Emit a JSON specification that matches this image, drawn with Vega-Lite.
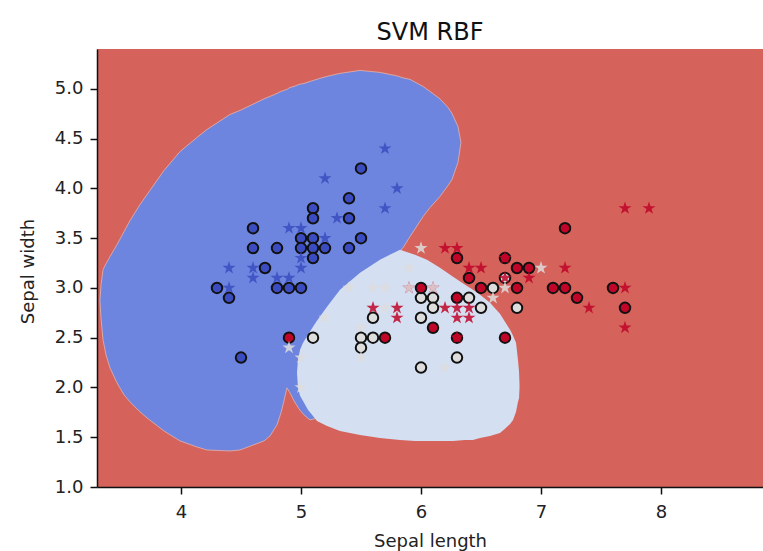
{
  "$schema": "https://vega.github.io/schema/vega-lite/v6.json",
  "autosize": {"type": "none"},
  "width": 666,
  "height": 438,
  "padding": {"left": 97, "top": 49, "right": 0, "bottom": 64},
  "background": "white",
  "title": {"text": "SVM RBF", "font": "DejaVu Sans", "fontSize": 24, "fontWeight": "normal", "color": "#111", "anchor": "middle", "baseline": "alphabetic", "offset": -15},
  "config": {
    "view": {"fill": "#d5625b", "stroke": null},
    "axis": {"domainColor": "#111", "domainWidth": 1.5, "tickColor": "#111", "tickWidth": 1.5, "tickSize": 7, "labelFont": "DejaVu Sans", "labelFontSize": 18, "labelColor": "#222", "titleFont": "DejaVu Sans", "titleFontSize": 18, "titleFontWeight": "normal", "titleColor": "#222", "grid": false}
  },
  "datasets": {
    "blueRegion": [
      {"x": 3.325, "lo": 2.861, "hi": 2.881}, {"x": 3.333, "lo": 2.7, "hi": 3.022}, {"x": 3.35, "lo": 2.479, "hi": 3.183}, {"x": 3.375, "lo": 2.328, "hi": 3.243}, {"x": 3.408, "lo": 2.197, "hi": 3.314}, {"x": 3.467, "lo": 2.046, "hi": 3.435}, {"x": 3.525, "lo": 1.926, "hi": 3.565}, {"x": 3.575, "lo": 1.855, "hi": 3.676}, {"x": 3.658, "lo": 1.755, "hi": 3.837}, {"x": 3.717, "lo": 1.694, "hi": 3.938}, {"x": 3.858, "lo": 1.563, "hi": 4.179}, {"x": 3.992, "lo": 1.463, "hi": 4.37}, {"x": 4.133, "lo": 1.402, "hi": 4.511}, {"x": 4.217, "lo": 1.372, "hi": 4.592}, {"x": 4.408, "lo": 1.362, "hi": 4.742}, {"x": 4.492, "lo": 1.372, "hi": 4.783}, {"x": 4.692, "lo": 1.463, "hi": 4.899}, {"x": 4.742, "lo": 1.513, "hi": 4.924}, {"x": 4.8, "lo": 1.624, "hi": 4.954}, {"x": 4.833, "lo": 1.744, "hi": 4.974}, {"x": 4.858, "lo": 1.865, "hi": 4.984}, {"x": 4.883, "lo": 1.996, "hi": 4.994}, {"x": 4.908, "lo": 1.946, "hi": 5.014}, {"x": 4.942, "lo": 1.865, "hi": 5.024}, {"x": 4.983, "lo": 1.785, "hi": 5.044}, {"x": 5.025, "lo": 1.724, "hi": 5.054}, {"x": 5.075, "lo": 1.674, "hi": 5.074}, {"x": 5.158, "lo": 1.7, "hi": 5.105}, {"x": 5.217, "lo": 2.73, "hi": 5.125}, {"x": 5.325, "lo": 2.901, "hi": 5.155}, {"x": 5.492, "lo": 3.082, "hi": 5.185}, {"x": 5.658, "lo": 3.223, "hi": 5.165}, {"x": 5.8, "lo": 3.334, "hi": 5.13}, {"x": 5.85, "lo": 3.404, "hi": 5.11}, {"x": 5.908, "lo": 3.515, "hi": 5.095}, {"x": 6.017, "lo": 3.716, "hi": 5.024}, {"x": 6.075, "lo": 3.807, "hi": 4.974}, {"x": 6.158, "lo": 3.918, "hi": 4.899}, {"x": 6.225, "lo": 4.028, "hi": 4.813}, {"x": 6.258, "lo": 4.089, "hi": 4.753}, {"x": 6.308, "lo": 4.26, "hi": 4.622}, {"x": 6.333, "lo": 4.461, "hi": 4.461}
    ],
    "lightRegion": [
      {"x": 4.967, "lo": 2.137, "hi": 2.157}, {"x": 4.975, "lo": 1.996, "hi": 2.278}, {"x": 4.992, "lo": 1.916, "hi": 2.378}, {"x": 5.017, "lo": 1.865, "hi": 2.449}, {"x": 5.058, "lo": 1.775, "hi": 2.529}, {"x": 5.1, "lo": 1.714, "hi": 2.61}, {"x": 5.133, "lo": 1.664, "hi": 2.67}, {"x": 5.217, "lo": 1.614, "hi": 2.811}, {"x": 5.325, "lo": 1.563, "hi": 2.982}, {"x": 5.492, "lo": 1.523, "hi": 3.153}, {"x": 5.658, "lo": 1.493, "hi": 3.284}, {"x": 5.825, "lo": 1.473, "hi": 3.384}, {"x": 5.95, "lo": 1.463, "hi": 3.334}, {"x": 6.05, "lo": 1.463, "hi": 3.284}, {"x": 6.158, "lo": 1.463, "hi": 3.203}, {"x": 6.267, "lo": 1.463, "hi": 3.113}, {"x": 6.367, "lo": 1.473, "hi": 3.032}, {"x": 6.433, "lo": 1.473, "hi": 2.982}, {"x": 6.492, "lo": 1.493, "hi": 2.932}, {"x": 6.575, "lo": 1.513, "hi": 2.851}, {"x": 6.658, "lo": 1.543, "hi": 2.74}, {"x": 6.7, "lo": 1.584, "hi": 2.66}, {"x": 6.742, "lo": 1.634, "hi": 2.579}, {"x": 6.767, "lo": 1.674, "hi": 2.519}, {"x": 6.792, "lo": 1.755, "hi": 2.449}, {"x": 6.808, "lo": 1.855, "hi": 2.278}, {"x": 6.817, "lo": 1.895, "hi": 2.157}, {"x": 6.821, "lo": 1.996, "hi": 2.026}
    ],
    "trainPoints": [
      {"x": 4.3, "y": 3.0, "c": "setosa"}, {"x": 4.4, "y": 2.9, "c": "setosa"}, {"x": 4.5, "y": 2.3, "c": "setosa"}, {"x": 4.6, "y": 3.6, "c": "setosa"}, {"x": 4.6, "y": 3.4, "c": "setosa"}, {"x": 4.7, "y": 3.2, "c": "setosa"}, {"x": 4.8, "y": 3.4, "c": "setosa"}, {"x": 4.8, "y": 3.0, "c": "setosa"}, {"x": 4.9, "y": 3.0, "c": "setosa"}, {"x": 5.0, "y": 3.0, "c": "setosa"}, {"x": 5.0, "y": 3.5, "c": "setosa"}, {"x": 5.1, "y": 3.5, "c": "setosa"}, {"x": 5.0, "y": 3.4, "c": "setosa"}, {"x": 5.1, "y": 3.4, "c": "setosa"}, {"x": 5.2, "y": 3.4, "c": "setosa"}, {"x": 5.4, "y": 3.4, "c": "setosa"}, {"x": 5.1, "y": 3.3, "c": "setosa"}, {"x": 5.1, "y": 3.8, "c": "setosa"}, {"x": 5.1, "y": 3.7, "c": "setosa"}, {"x": 5.4, "y": 3.7, "c": "setosa"}, {"x": 5.4, "y": 3.9, "c": "setosa"}, {"x": 5.5, "y": 4.2, "c": "setosa"}, {"x": 5.5, "y": 3.5, "c": "setosa"},
      {"x": 5.1, "y": 2.5, "c": "versicolor"}, {"x": 5.5, "y": 2.5, "c": "versicolor"}, {"x": 5.6, "y": 2.5, "c": "versicolor"}, {"x": 5.5, "y": 2.4, "c": "versicolor"}, {"x": 5.6, "y": 2.7, "c": "versicolor"}, {"x": 6.0, "y": 2.9, "c": "versicolor"}, {"x": 6.1, "y": 2.9, "c": "versicolor"}, {"x": 6.1, "y": 2.8, "c": "versicolor"}, {"x": 6.0, "y": 2.7, "c": "versicolor"}, {"x": 6.0, "y": 2.2, "c": "versicolor"}, {"x": 6.4, "y": 2.9, "c": "versicolor"}, {"x": 6.5, "y": 2.8, "c": "versicolor"}, {"x": 6.6, "y": 3.0, "c": "versicolor"}, {"x": 6.3, "y": 2.3, "c": "versicolor"}, {"x": 6.8, "y": 2.8, "c": "versicolor"}, {"x": 6.7, "y": 3.1, "c": "versicolor"},
      {"x": 4.9, "y": 2.5, "c": "virginica"}, {"x": 5.7, "y": 2.5, "c": "virginica"}, {"x": 6.0, "y": 3.0, "c": "virginica"}, {"x": 6.1, "y": 2.6, "c": "virginica"}, {"x": 6.3, "y": 2.9, "c": "virginica"}, {"x": 6.3, "y": 2.5, "c": "virginica"}, {"x": 6.7, "y": 2.5, "c": "virginica"}, {"x": 6.3, "y": 3.3, "c": "virginica"}, {"x": 6.7, "y": 3.3, "c": "virginica"}, {"x": 6.8, "y": 3.2, "c": "virginica"}, {"x": 6.9, "y": 3.2, "c": "virginica"}, {"x": 6.4, "y": 3.1, "c": "virginica"}, {"x": 6.5, "y": 3.0, "c": "virginica"}, {"x": 6.8, "y": 3.0, "c": "virginica"}, {"x": 7.2, "y": 3.6, "c": "virginica"}, {"x": 7.1, "y": 3.0, "c": "virginica"}, {"x": 7.2, "y": 3.0, "c": "virginica"}, {"x": 7.3, "y": 2.9, "c": "virginica"}, {"x": 7.6, "y": 3.0, "c": "virginica"}, {"x": 7.7, "y": 2.8, "c": "virginica"}
    ],
    "testPoints": [
      {"x": 5.7, "y": 4.4, "c": "setosa"}, {"x": 5.2, "y": 4.1, "c": "setosa"}, {"x": 5.8, "y": 4.0, "c": "setosa"}, {"x": 5.7, "y": 3.8, "c": "setosa"}, {"x": 5.3, "y": 3.7, "c": "setosa"}, {"x": 4.9, "y": 3.6, "c": "setosa"}, {"x": 5.0, "y": 3.6, "c": "setosa"}, {"x": 5.2, "y": 3.5, "c": "setosa"}, {"x": 4.4, "y": 3.2, "c": "setosa"}, {"x": 4.6, "y": 3.2, "c": "setosa"}, {"x": 4.6, "y": 3.1, "c": "setosa"}, {"x": 4.4, "y": 3.0, "c": "setosa"}, {"x": 4.8, "y": 3.1, "c": "setosa"}, {"x": 4.9, "y": 3.1, "c": "setosa"}, {"x": 5.0, "y": 3.3, "c": "setosa"}, {"x": 5.0, "y": 3.2, "c": "setosa"},
      {"x": 6.2, "y": 3.4, "c": "virginica"}, {"x": 6.3, "y": 3.4, "c": "virginica"}, {"x": 6.4, "y": 3.2, "c": "virginica"}, {"x": 6.5, "y": 3.2, "c": "virginica"}, {"x": 6.7, "y": 3.1, "c": "virginica"}, {"x": 6.9, "y": 3.1, "c": "virginica"}, {"x": 6.2, "y": 2.8, "c": "virginica"}, {"x": 6.3, "y": 2.8, "c": "virginica"}, {"x": 6.4, "y": 2.8, "c": "virginica"}, {"x": 6.3, "y": 2.7, "c": "virginica"}, {"x": 6.4, "y": 2.7, "c": "virginica"}, {"x": 5.8, "y": 2.8, "c": "virginica"}, {"x": 5.8, "y": 2.7, "c": "virginica"}, {"x": 5.6, "y": 2.8, "c": "virginica"}, {"x": 6.3, "y": 2.5, "c": "virginica"}, {"x": 7.2, "y": 3.2, "c": "virginica"}, {"x": 7.7, "y": 3.8, "c": "virginica"}, {"x": 7.9, "y": 3.8, "c": "virginica"}, {"x": 7.4, "y": 2.8, "c": "virginica"}, {"x": 7.7, "y": 3.0, "c": "virginica"}, {"x": 7.7, "y": 2.6, "c": "virginica"}, {"x": 6.7, "y": 3.3, "c": "virginica"}, {"x": 5.9, "y": 3.0, "c": "virginica"}, {"x": 6.1, "y": 3.0, "c": "virginica"},
      {"x": 4.9, "y": 2.4, "c": "versicolor"}, {"x": 5.0, "y": 2.3, "c": "versicolor"}, {"x": 5.0, "y": 2.0, "c": "versicolor"}, {"x": 5.2, "y": 2.7, "c": "versicolor"}, {"x": 5.4, "y": 3.0, "c": "versicolor"}, {"x": 5.6, "y": 3.0, "c": "versicolor"}, {"x": 5.7, "y": 3.0, "c": "versicolor"}, {"x": 5.7, "y": 2.8, "c": "versicolor"}, {"x": 5.5, "y": 2.6, "c": "versicolor"}, {"x": 5.9, "y": 3.2, "c": "versicolor"}, {"x": 6.0, "y": 3.4, "c": "versicolor"}, {"x": 6.6, "y": 2.9, "c": "versicolor"}, {"x": 6.7, "y": 3.0, "c": "versicolor"}, {"x": 7.0, "y": 3.2, "c": "versicolor"}, {"x": 6.2, "y": 2.2, "c": "versicolor"}, {"x": 5.9, "y": 3.0, "c": "versicolor"}, {"x": 6.1, "y": 3.0, "c": "versicolor"}, {"x": 5.5, "y": 2.3, "c": "versicolor"}
    ]
  },
  "layer": [
    {
      "data": {"name": "blueRegion"},
      "mark": {"type": "area", "color": "#6e85df", "opacity": 1, "stroke": "#e4b4ac", "strokeWidth": 0.8},
      "encoding": {
        "x": {"field": "x", "type": "quantitative", "scale": {"domain": [3.3, 8.85], "nice": false, "zero": false}, "axis": {"title": "Sepal length", "values": [4, 5, 6, 7, 8], "format": "d", "labelPadding": 9, "titleY": 59, "titleBaseline": "alphabetic"}},
        "y": {"field": "lo", "type": "quantitative", "stack": null, "scale": {"domain": [1, 5.4], "nice": false, "zero": false}, "axis": {"title": "Sepal width", "values": [1, 1.5, 2, 2.5, 3, 3.5, 4, 4.5, 5], "format": ".1f", "labelPadding": 7, "titleX": -64, "titleY": 222, "titleAngle": -90, "titleBaseline": "alphabetic", "titleAlign": "center"}},
        "y2": {"field": "hi"}
      }
    },
    {
      "data": {"name": "lightRegion"},
      "mark": {"type": "area", "color": "#d5dff2", "opacity": 1},
      "encoding": {
        "x": {"field": "x", "type": "quantitative"},
        "y": {"field": "lo", "type": "quantitative", "stack": null},
        "y2": {"field": "hi"}
      }
    },
    {
      "data": {"name": "trainPoints"},
      "mark": {"type": "point", "shape": "circle", "filled": true, "size": 110, "stroke": "#111", "strokeWidth": 2, "opacity": 1},
      "encoding": {
        "x": {"field": "x", "type": "quantitative"},
        "y": {"field": "y", "type": "quantitative"},
        "color": {"field": "c", "type": "nominal", "scale": {"domain": ["setosa", "versicolor", "virginica"], "range": ["#3b4cc0", "#dddddd", "#c00528"]}, "legend": null}
      }
    },
    {
      "data": {"name": "testPoints"},
      "mark": {"type": "point", "shape": "M0,-1L0.2245,-0.309L0.9511,-0.309L0.3633,0.118L0.5878,0.809L0,0.382L-0.5878,0.809L-0.3633,0.118L-0.9511,-0.309L-0.2245,-0.309Z", "filled": true, "size": 190, "opacity": 0.85},
      "encoding": {
        "x": {"field": "x", "type": "quantitative"},
        "y": {"field": "y", "type": "quantitative"},
        "color": {"field": "c", "type": "nominal", "legend": null}
      }
    },
    {
      "mark": {"type": "rule", "color": "#111", "strokeWidth": 1.5},
      "encoding": {"y": {"datum": 5.4, "type": "quantitative"}}
    }
  ]
}
